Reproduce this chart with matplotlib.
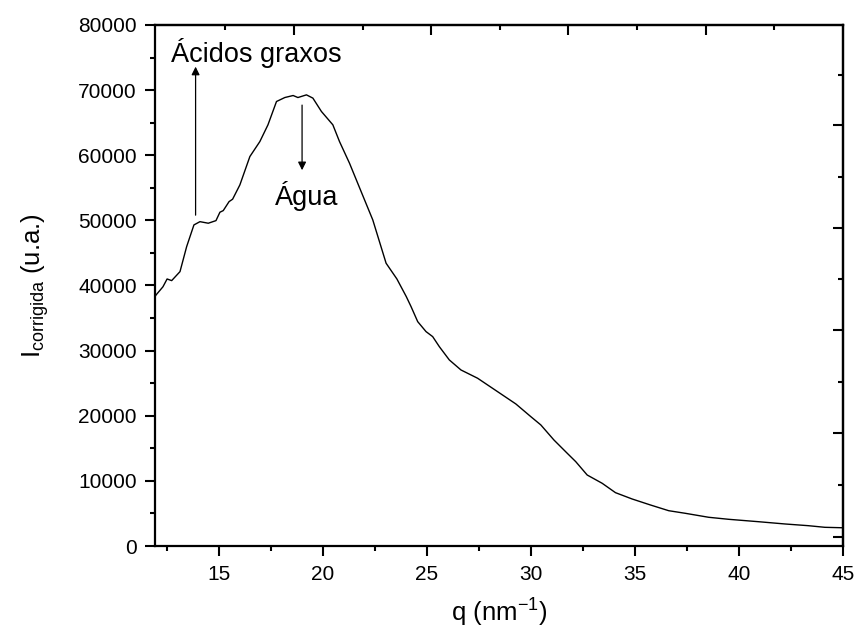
import matplotlib.pyplot as plt
from matplotlib.ticker import MultipleLocator

plt.rcParams['font.family'] = ['Liberation Sans', 'DejaVu Sans']

# curve
q = [11.92, 11.97, 12.3, 12.5, 12.72, 13.12, 13.44, 13.79, 14.08, 14.48, 14.85,
     15.04, 15.2, 15.48, 15.65, 16.0, 16.48, 16.96, 17.35, 17.76, 18.16, 18.56,
     18.79, 19.2, 19.51, 19.92, 20.47, 20.79, 21.27, 21.83, 22.39, 23.03, 23.55,
     24.0, 24.23, 24.55, 24.95, 25.27, 25.59, 26.07, 26.63, 27.43, 28.39, 29.27,
     29.99, 30.47, 31.1, 31.74, 32.15, 32.7, 33.42, 34.06, 34.86, 35.74, 36.62,
     37.42, 38.54, 39.5, 40.94, 42.22, 43.33, 44.13, 45.0]
intensity = [38300, 38550, 39800, 41000, 40750, 42130, 45970, 49300, 49800, 49560,
             49960, 51250, 51500, 52880, 53250, 55450, 59800, 62100, 64670, 68250,
             68860, 69170, 68860, 69270, 68770, 66720, 64670, 62100, 58780, 54420,
             50070, 43420, 41000, 38300, 36760, 34450, 32920, 32150, 30610, 28570,
             27030, 25760, 23700, 21810, 19860, 18590, 16280, 14240, 12950, 10900,
             9630, 8190, 7220, 6300, 5420, 5020, 4410, 4100, 3730, 3380, 3120,
             2870, 2800]

# independent top / right axis ticks (no labels in the reference)
top_major = [18.59, 25.19, 31.78, 38.40]
top_minor = [15.26, 21.9, 28.5, 35.09, 41.7]
right_major = [1380, 17350, 33170, 48830, 64640]
right_minor = [9370, 25180, 41000, 56660, 72300]

fig = plt.figure(figsize=(8.58, 6.34), dpi=100)
ax = fig.add_axes([0.1807, 0.1388, 0.8018, 0.8218])

ax.plot(q, intensity, color='black', lw=1.0)

ax.set_xlim(11.92, 45)
ax.set_ylim(0, 80000)
ax.xaxis.set_major_locator(MultipleLocator(5))
ax.xaxis.set_minor_locator(MultipleLocator(2.5))
ax.yaxis.set_major_locator(MultipleLocator(10000))
ax.yaxis.set_minor_locator(MultipleLocator(5000))
ax.tick_params(which='major', direction='out', length=7, width=1.5,
               labelsize=15, pad=6)
ax.tick_params(which='minor', direction='out', length=3.5, width=1.5)
ax.tick_params(axis='x', pad=7)
for s in ax.spines.values():
    s.set_linewidth(1.6)

top = ax.secondary_xaxis('top')
top.set_xticks(top_major)
top.set_xticks(top_minor, minor=True)
top.tick_params(which='major', direction='in', length=7, width=1.5, labeltop=False)
top.tick_params(which='minor', direction='in', length=3.5, width=1.5)
top.spines['top'].set_linewidth(1.6)

right = ax.secondary_yaxis('right')
right.set_yticks(right_major)
right.set_yticks(right_minor, minor=True)
right.tick_params(which='major', direction='in', length=7, width=1.5, labelright=False)
right.tick_params(which='minor', direction='in', length=3.5, width=1.5)
right.spines['right'].set_linewidth(1.6)

ax.set_xlabel('q (nm$^{\\mathregular{-1}}$)', fontsize=18.5, labelpad=8)
ax.set_ylabel('$\\mathregular{I_{corrigida}}$ (u.a.)', fontsize=18.5, labelpad=20)

ax.annotate('', xy=(13.87, 73600), xytext=(13.87, 50800),
            arrowprops=dict(arrowstyle='-|>', color='black', lw=0.9,
                            mutation_scale=12, shrinkA=0, shrinkB=0))
ax.annotate('', xy=(18.99, 57700), xytext=(18.99, 67700),
            arrowprops=dict(arrowstyle='-|>', color='black', lw=0.9,
                            mutation_scale=12, shrinkA=0, shrinkB=0))
ax.text(16.8, 75700, 'Ácidos graxos', fontsize=19.5, ha='center', va='center')
ax.text(19.2, 53700, 'Água', fontsize=19.5, ha='center', va='center')

fig.savefig('out.png', dpi=100)
